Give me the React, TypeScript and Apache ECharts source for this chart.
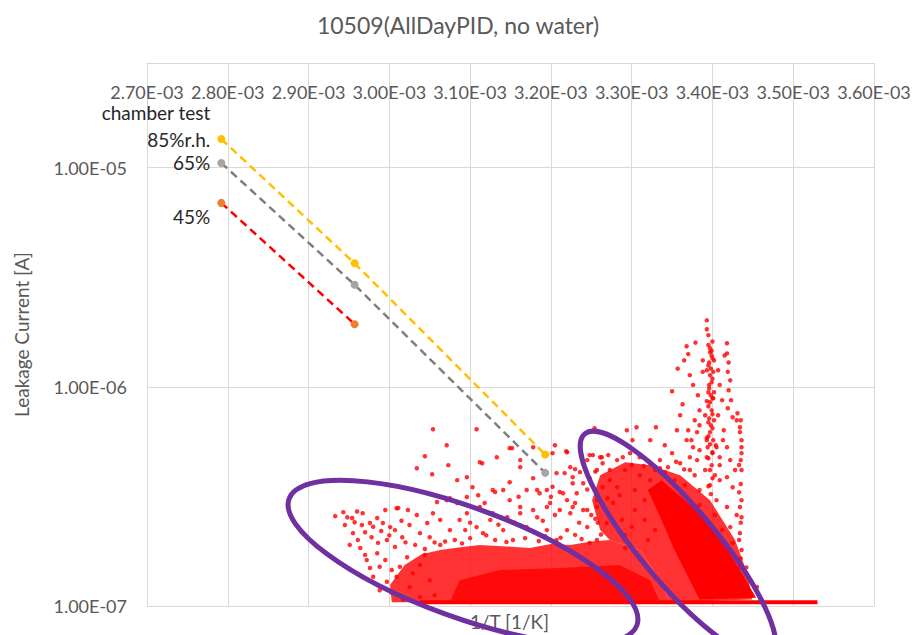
import React, { useEffect, useRef } from "react";
import * as echarts from "echarts";

// ---- axis ticks (x in units of 1E-04 1/K) ----
const xMin = 27;
const xMax = 36;
const yMin = 1e-7;
const yMax = 3e-5;

// ---- chamber test (dashed lines) ----
const chamberX = [27.92, 29.57, 31.93];
const rh85 = [1.35e-5, 3.66e-6, 4.91e-7];
const rh65 = [1.05e-5, 2.92e-6, 4.05e-7];
const rh45 = [6.9e-6, 1.93e-6];

// ---- field data: lower limit row ----
const floorX = [30.38, 35.3];
const floorY = 1.04e-7;

// ---- field data: dense regions (outlines of solid point clouds) ----
const denseBand: number[][] = [
  [30.03, 1.04e-7], [30.01, 1.25e-7], [30.19, 1.54e-7], [30.4, 1.72e-7], [30.63, 1.8e-7], [30.9, 1.86e-7],
  [31.12, 1.9e-7], [31.45, 1.87e-7], [31.74, 1.84e-7], [32.0, 1.92e-7], [32.24, 1.9e-7], [32.5, 1.97e-7],
  [32.73, 2.0e-7], [33.1, 1.8e-7], [33.35, 1.31e-7], [33.47, 1.04e-7],
];
const denseBandCore: number[][] = [
  [30.75, 1.04e-7], [30.87, 1.31e-7], [31.37, 1.46e-7], [32.11, 1.49e-7], [32.85, 1.54e-7],
  [33.23, 1.31e-7], [33.35, 1.04e-7],
];
const rightCluster: number[][] = [
  [32.61, 3.95e-7], [32.92, 4.53e-7], [33.23, 4.39e-7], [33.6, 3.95e-7], [33.97, 3.04e-7],
  [34.28, 2.0e-7], [34.44, 1.38e-7], [34.49, 1.07e-7], [33.47, 1.04e-7], [33.35, 1.31e-7], [33.1, 1.8e-7],
  [32.73, 2.0e-7], [32.61, 2.22e-7], [32.51, 3.04e-7],
];
const rightCore: number[][] = [
  [33.2, 3.38e-7], [33.37, 3.75e-7], [33.66, 3.04e-7], [33.91, 2.47e-7], [34.19, 1.8e-7],
  [34.4, 1.34e-7], [34.54, 1.09e-7], [33.84, 1.07e-7], [33.72, 1.31e-7], [33.53, 1.8e-7], [33.37, 2.47e-7],
];

// ---- field data: individual points ----
const pointsLeft: number[][] = [
  [29.33, 2.57e-7], [29.43, 2.68e-7], [29.48, 2.54e-7], [29.54, 2.52e-7], [29.57, 2.41e-7], [29.67, 2.65e-7],
  [29.76, 2.39e-7], [29.85, 2.52e-7], [29.92, 2.39e-7], [30.01, 2.29e-7], [30.09, 2.79e-7], [30.23, 2.74e-7],
  [30.34, 2.6e-7], [29.64, 1.84e-7], [29.72, 1.62e-7], [29.76, 1.49e-7], [29.8, 1.36e-7], [29.88, 1.51e-7],
  [29.97, 1.29e-7], [30.03, 1.15e-7], [30.17, 1.07e-7], [29.85, 1.74e-7], [29.55, 2.15e-7], [29.61, 2.0e-7],
  [29.7, 2.17e-7], [29.78, 2.06e-7], [29.86, 1.94e-7], [29.97, 2.0e-7], [30.07, 1.86e-7], [30.16, 2.06e-7],
  [30.22, 1.67e-7], [30.13, 1.51e-7], [30.09, 1.36e-7], [30.29, 1.41e-7], [30.25, 1.22e-7], [30.38, 1.1e-7],
  [30.47, 2.39e-7], [30.54, 2.65e-7], [30.63, 2.47e-7], [30.71, 3.04e-7], [30.84, 2.95e-7], [30.96, 3.14e-7],
  [30.38, 2.15e-7], [30.5, 2.06e-7], [29.45, 2.34e-7], [29.66, 2.34e-7], [29.95, 2.74e-7], [29.51, 1.9e-7],
  [29.7, 1.71e-7], [29.95, 1.62e-7], [30.03, 1.46e-7], [29.88, 1.18e-7], [30.07, 2.22e-7], [30.25, 2.34e-7],
  [30.32, 1.9e-7], [30.44, 1.71e-7], [30.38, 1.54e-7], [30.5, 1.31e-7], [30.56, 1.12e-7], [30.63, 1.9e-7],
  [30.75, 2.22e-7], [30.87, 2.47e-7], [30.81, 2.0e-7], [30.94, 2.22e-7], [30.11, 2.8e-7],
  [29.9, 2.2e-7], [30.0, 2.1e-7], [30.2, 1.95e-7], [30.15, 2.45e-7], [29.6, 2.7e-7], [29.8, 2.3e-7],
];
const pointsMid: number[][] = [
  [30.54, 6.4e-7], [30.71, 5.41e-7], [30.44, 4.82e-7], [30.34, 4.25e-7], [30.53, 3.99e-7], [30.73, 4.39e-7],
  [31.08, 6.4e-7], [31.33, 4.77e-7], [31.12, 4.53e-7], [30.84, 3.75e-7], [30.96, 3.87e-7], [31.49, 3.67e-7],
  [31.28, 3.38e-7], [31.03, 3.48e-7], [30.75, 3.1e-7], [30.59, 2.98e-7], [31.62, 4.3e-7], [31.78, 3.83e-7],
  [31.7, 3.38e-7], [31.86, 3.27e-7], [32.02, 4.98e-7], [32.05, 5.41e-7], [32.2, 5.03e-7], [32.07, 4.04e-7],
  [32.24, 4.3e-7], [32.36, 4.08e-7], [32.27, 3.63e-7], [32.02, 3.5e-7], [32.15, 3.27e-7], [31.49, 5.25e-7],
  [31.49, 3.04e-7], [31.12, 2.83e-7], [30.96, 2.65e-7], [31.28, 2.65e-7], [31.62, 2.83e-7], [31.78, 2.74e-7],
  [31.95, 2.83e-7], [32.11, 2.74e-7], [32.27, 2.83e-7], [32.45, 2.74e-7], [32.57, 3.04e-7], [31.15, 4.48e-7],
  [31.41, 3.38e-7], [31.31, 3.31e-7], [31.18, 2.95e-7], [31.83, 3.38e-7], [31.95, 3.38e-7], [32.11, 3.31e-7],
  [31.99, 2.95e-7], [32.2, 3.04e-7], [32.32, 3.27e-7], [32.4, 3.63e-7], [32.48, 3.83e-7], [32.48, 4.88e-7],
  [32.57, 4.17e-7], [32.64, 4.48e-7], [32.73, 4.17e-7], [32.82, 4.63e-7], [32.89, 4.77e-7], [32.64, 3.48e-7],
  [32.82, 3.48e-7], [32.77, 2.95e-7], [32.57, 2.83e-7], [32.4, 2.74e-7], [32.24, 2.65e-7], [32.05, 2.6e-7],
  [31.83, 2.54e-7], [31.62, 2.65e-7], [31.46, 2.54e-7], [31.25, 2.47e-7], [31.08, 2.29e-7], [31.16, 2.15e-7],
  [31.41, 2.22e-7], [31.7, 2.29e-7], [31.95, 2.22e-7], [32.2, 2.22e-7], [32.45, 2.29e-7], [32.69, 2.39e-7],
  [32.88, 2.47e-7], [31.53, 2.0e-7], [32.07, 2.0e-7], [32.57, 2.0e-7], [32.54, 6.47e-7], [32.94, 6.34e-7],
  [33.06, 6.54e-7], [33.01, 5.71e-7], [33.3, 6.54e-7], [32.3, 4.21e-7], [32.45, 4.63e-7], [32.52, 4.88e-7],
  [32.61, 4.77e-7], [32.71, 4.88e-7], [32.98, 4.98e-7], [31.62, 4.63e-7], [31.78, 5.3e-7], [31.52, 5.25e-7],
  [32.19, 5.08e-7], [32.17, 4.04e-7], [32.27, 3.87e-7], [32.63, 4.77e-7],
  [30.44, 1.82e-7], [30.69, 1.97e-7], [31.0, 2.04e-7], [31.31, 2.0e-7], [31.68, 2.04e-7], [31.93, 2.08e-7],
  [32.3, 2.11e-7], [32.48, 1.94e-7], [32.92, 2.11e-7], [33.16, 2.47e-7], [33.04, 2.74e-7], [33.29, 2.22e-7],
  [32.92, 1.84e-7], [30.56, 1.95e-7], [30.9, 1.93e-7], [31.2, 2.1e-7], [31.45, 1.96e-7], [31.85, 1.98e-7],
  [32.12, 2.05e-7], [32.38, 2.02e-7], [32.62, 2.12e-7], [33.0, 2.3e-7], [33.2, 2.0e-7],
  [31.0, 2.4e-7], [31.35, 2.35e-7], [31.55, 2.4e-7], [31.9, 2.45e-7], [32.35, 2.4e-7], [32.55, 2.5e-7],
  [31.1, 3.2e-7], [31.6, 3.15e-7], [32.0, 3.15e-7], [32.3, 2.95e-7], [32.7, 3.1e-7],
];
const pointsRight: number[][] = [
  [33.1, 4.77e-7], [33.23, 4.48e-7], [33.35, 4.63e-7], [33.5, 4.98e-7], [33.6, 4.48e-7], [33.72, 4.77e-7],
  [33.81, 4.63e-7], [33.93, 4.77e-7], [34.0, 4.98e-7], [34.09, 4.77e-7], [33.68, 5.71e-7], [33.76, 5.3e-7],
  [33.93, 5.71e-7], [34.05, 5.3e-7], [34.13, 5.71e-7], [34.18, 5.3e-7], [34.25, 7.26e-7], [34.31, 7.57e-7],
  [34.34, 6.54e-7], [34.36, 5.71e-7], [34.36, 4.98e-7], [34.36, 4.17e-7], [34.36, 3.04e-7], [34.34, 2.83e-7],
  [34.36, 2.54e-7], [34.34, 2.15e-7], [34.36, 1.8e-7], [34.34, 1.51e-7], [34.55, 1.22e-7], [34.49, 1.12e-7],
  [34.18, 3.87e-7], [34.25, 3.48e-7], [34.09, 3.75e-7], [34.05, 3.04e-7], [34.18, 2.83e-7], [34.22, 2.29e-7],
  [34.25, 1.94e-7], [32.73, 3.75e-7], [32.92, 4.17e-7], [33.1, 3.95e-7], [33.23, 3.75e-7], [33.04, 3.38e-7],
  [32.85, 3.2e-7], [33.16, 3.04e-7], [33.29, 4.17e-7], [33.41, 4.08e-7], [33.53, 3.75e-7], [33.66, 3.56e-7],
  [33.78, 3.95e-7], [33.84, 3.38e-7], [33.91, 4.17e-7], [33.97, 3.56e-7], [33.84, 2.89e-7], [34.03, 2.6e-7],
  [34.12, 2.22e-7], [34.15, 1.8e-7], [34.22, 1.54e-7], [34.28, 1.31e-7], [34.4, 1.18e-7],
  [33.23, 5.71e-7], [33.41, 5.41e-7], [33.56, 6.34e-7], [33.6, 7.42e-7], [33.84, 6.68e-7], [33.91, 7.42e-7],
  [33.81, 6.21e-7], [34.09, 4.39e-7], [34.22, 4.63e-7], [34.28, 4.17e-7], [34.03, 3.95e-7], [33.72, 4.17e-7],
  [34.33, 4.4e-7], [34.35, 3.6e-7], [34.33, 3.3e-7], [34.35, 2.4e-7], [34.33, 2.0e-7], [34.35, 1.65e-7],
  [33.45, 4.3e-7], [33.55, 4.55e-7], [33.65, 4.2e-7], [33.35, 4.25e-7], [33.15, 4.35e-7], [33.0, 4.4e-7],
  [32.55, 4.1e-7], [32.45, 3.4e-7], [32.5, 2.6e-7], [32.58, 2.4e-7], [34.3, 2.6e-7], [34.42, 1.5e-7],
];
const pointsSpike: number[][] = [
  [33.93, 2.01e-6], [33.93, 1.83e-6], [33.97, 1.5e-6], [33.99, 1.39e-6], [33.96, 1.29e-6], [33.98, 1.21e-6],
  [33.97, 1.13e-6], [33.99, 1.05e-6], [33.96, 9.85e-7], [33.98, 9.15e-7], [33.97, 8.5e-7], [33.99, 7.81e-7],
  [33.96, 7.18e-7], [33.98, 6.68e-7], [33.97, 6.21e-7], [34.01, 5.71e-7], [33.94, 5.3e-7], [33.99, 4.39e-7],
  [34.02, 1.32e-6], [33.93, 1.19e-6], [34.02, 9.45e-7], [33.93, 8.6e-7], [34.02, 7.04e-7], [33.93, 5.84e-7],
  [33.99, 1.46e-6], [33.96, 1.02e-6], [34.01, 8.87e-7], [34.01, 1.17e-6],
  [33.95, 1.72e-6], [34.0, 1.61e-6], [33.95, 1.55e-6], [33.97, 1.44e-6], [34.0, 1.35e-6], [33.95, 1.25e-6],
  [34.0, 1.09e-6], [33.95, 9.44e-7], [34.0, 8.87e-7], [33.95, 8.15e-7], [34.0, 7.5e-7], [33.95, 6.89e-7],
  [34.0, 6.47e-7], [33.95, 5.95e-7], [33.97, 5.47e-7], [34.0, 5.03e-7], [33.95, 4.72e-7], [33.97, 4.17e-7],
  [34.0, 3.83e-7], [33.95, 3.52e-7], [33.98, 3.24e-7],
  [34.18, 1.58e-6], [34.18, 1.42e-6], [34.2, 1.29e-6], [34.19, 1.17e-6], [34.22, 1.07e-6], [34.2, 9.65e-7],
  [34.23, 8.69e-7], [34.19, 7.98e-7], [34.35, 7.04e-7], [34.34, 6.21e-7], [34.36, 5.3e-7], [34.35, 4.63e-7],
  [33.79, 1.59e-6], [33.68, 1.53e-6], [33.7, 1.41e-6], [33.65, 1.32e-6], [33.57, 1.21e-6], [33.5, 9.54e-7],
  [33.63, 8.32e-7], [33.72, 1.13e-6], [33.76, 1.02e-6], [33.82, 9.15e-7], [33.84, 7.81e-7], [33.78, 7.04e-7],
  [33.7, 6.34e-7], [33.74, 5.71e-7], [33.84, 5.14e-7], [33.88, 1.32e-6], [33.88, 1.17e-6], [34.07, 1.19e-6],
  [34.09, 1.02e-6], [34.12, 8.69e-7], [34.07, 7.42e-7], [34.14, 6.34e-7], [34.04, 5.41e-7], [34.15, 1.39e-6],
  [34.3, 7.04e-7],
];

const RED = "#FF0000";
const FONT = "Lato, 'Open Sans', sans-serif";

function polySeries(poly: number[][], opacity: number) {
  return {
    type: "custom",
    data: poly,
    encode: { x: 0, y: 1 },
    silent: true,
    renderItem: (params: any, api: any) => {
      if (params.dataIndex !== 0) return null;
      const pts = poly.map((p) => api.coord(p));
      return { type: "polygon", shape: { points: pts }, style: { fill: RED, opacity } };
    },
  };
}

function chamberSeries(ys: number[], lineColor: string, markColor: string, labelText: string, offset: number[]) {
  return {
    type: "line",
    data: ys.map((y, i) =>
      i === 0
        ? {
            value: [chamberX[i], y],
            label: {
              show: true,
              position: "left",
              distance: 7,
              formatter: labelText,
              offset,
              color: "#262626",
              fontSize: 19,
              fontFamily: FONT,
              lineHeight: 27,
              align: "right",
            },
          }
        : [chamberX[i], y]
    ),
    symbol: "circle",
    symbolSize: 8,
    itemStyle: { color: markColor },
    lineStyle: { color: lineColor, width: 2.5, type: [8, 5] },
    z: 5,
  };
}

export default function App() {
  const ref = useRef<HTMLDivElement>(null);
  useEffect(() => {
    if (!ref.current) return;
    const chart = echarts.init(ref.current, undefined, { renderer: "svg" });
    const scatterStyle = { color: RED };
    const pointSize = 4.5;
    chart.setOption({
      animation: false,
      backgroundColor: "#ffffff",
      textStyle: { fontFamily: FONT },
      title: {
        text: "10509(AllDayPID, no water)",
        left: "center",
        top: 8,
        textStyle: { fontSize: 23, fontWeight: "normal", color: "#595959", fontFamily: FONT },
      },
      grid: { left: 147, right: 42, top: 63, bottom: 29, containLabel: false },
      xAxis: {
        type: "value",
        position: "top",
        min: xMin,
        max: xMax,
        interval: 1,
        axisLine: { show: true, lineStyle: { color: "#D9D9D9" } },
        axisTick: { show: false },
        axisLabel: {
          inside: true,
          margin: 20,
          color: "#595959",
          fontSize: 18,
          fontFamily: FONT,
          formatter: (v: number) => (v / 10).toFixed(2) + "E-03",
        },
        splitLine: { show: true, lineStyle: { color: "#D9D9D9" } },
      },
      yAxis: {
        type: "log",
        logBase: 10,
        min: yMin,
        max: yMax,
        name: "Leakage Current [A]",
        nameLocation: "middle",
        nameGap: 116,
        nameTextStyle: { fontSize: 19, color: "#595959", fontFamily: FONT },
        axisLine: { show: false },
        axisTick: { show: false },
        axisLabel: {
          margin: 20,
          color: "#595959",
          fontSize: 18,
          fontFamily: FONT,
          formatter: (v: number) => {
            const e = Math.log10(v);
            const r = Math.round(e);
            if (Math.abs(e - r) > 1e-6) return "";
            return "1.00E-" + String(-r).padStart(2, "0");
          },
        },
        splitLine: { show: true, lineStyle: { color: "#D9D9D9" } },
      },
      graphic: [
        {
          type: "text",
          left: 470,
          top: 612,
          style: { text: "1/T [1/K]", fontSize: 19, fill: "#595959", fontFamily: FONT },
          z: 50,
        },
        {
          type: "ellipse",
          x: 463,
          y: 562,
          rotation: (-20 * Math.PI) / 180,
          shape: { cx: 0, cy: 0, rx: 185, ry: 55 },
          style: { fill: "none", stroke: "#7030A0", lineWidth: 5 },
          z: 100,
        },
        {
          type: "ellipse",
          x: 678,
          y: 545,
          rotation: (-50 * Math.PI) / 180,
          shape: { cx: 0, cy: 0, rx: 145, ry: 38 },
          style: { fill: "none", stroke: "#7030A0", lineWidth: 5 },
          z: 100,
        },
      ],
      series: [
        polySeries(denseBand, 0.8),
        polySeries(denseBandCore, 0.8),
        polySeries(rightCluster, 0.8),
        polySeries(rightCore, 1),
        {
          type: "line",
          data: floorX.map((x) => [x, floorY]),
          symbol: "none",
          lineStyle: { color: RED, width: 4 },
          silent: true,
        },
        { type: "scatter", data: pointsLeft, symbolSize: pointSize, itemStyle: scatterStyle, silent: true },
        { type: "scatter", data: pointsMid, symbolSize: pointSize, itemStyle: scatterStyle, silent: true },
        { type: "scatter", data: pointsRight, symbolSize: pointSize, itemStyle: scatterStyle, silent: true },
        { type: "scatter", data: pointsSpike, symbolSize: pointSize, itemStyle: scatterStyle, silent: true },
        chamberSeries(rh85, "#FFC000", "#FFC000", "chamber test\n85%r.h.", [0, -13]),
        chamberSeries(rh65, "#7F7F7F", "#A5A5A5", "65%", [0, 0]),
        chamberSeries(rh45, RED, "#ED7D31", "45%", [0, 14]),
      ],
    });
    return () => chart.dispose();
  }, []);
  return <div ref={ref} style={{ position: "fixed", left: 0, top: 0, width: 916, height: 635 }} />;
}
